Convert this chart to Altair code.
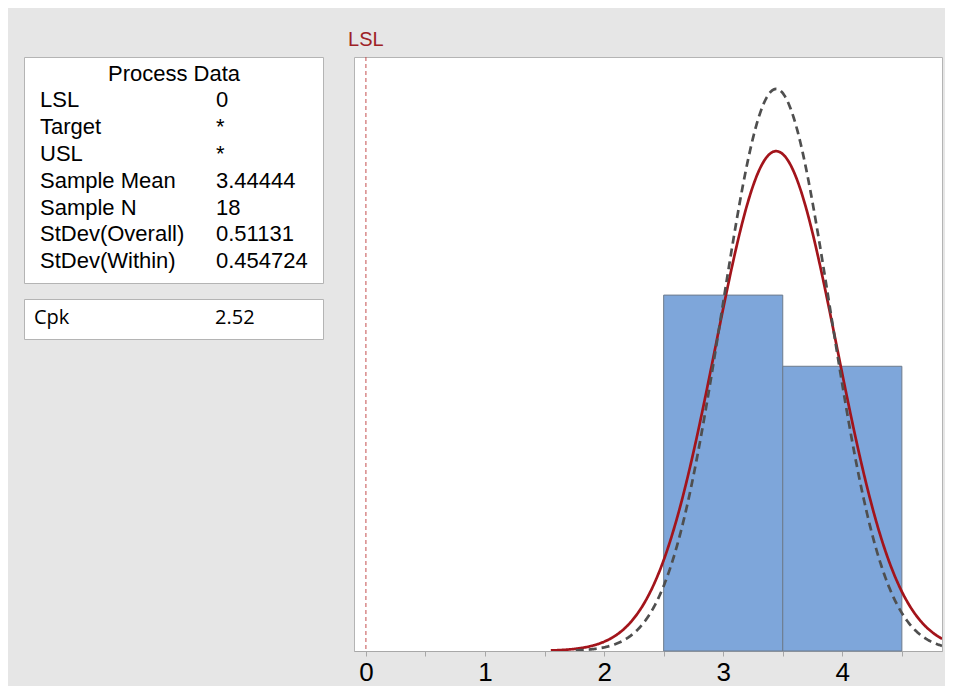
import altair as alt
import pandas as pd

# ---- data ----
pd_labels = ["LSL", "Target", "USL", "Sample Mean", "Sample N", "StDev(Overall)", "StDev(Within)"]
pd_values = ["0", "*", "*", "3.44444", "18", "0.51131", "0.454724"]
cpk_labels = ["Cpk"]
cpk_values = ["2.52"]

bin_start = [2.5, 3.5]
bin_end = [3.5, 4.5]
bin_count = [10, 8]

lsl_value = [0]
sample_mean = 3.44444
sample_n = 18
sd_overall = 0.51131
sd_within = 0.454724
bin_width = 1.0

x_tick_values = [0, 0.5, 1, 1.5, 2, 2.5, 3, 3.5, 4, 4.5]
x_domain = [-0.1, 4.837]
y_domain = [0, 16.69]

FONT = "Liberation Sans"

# ---- left panels ----
rows = pd.DataFrame({
    "row": list(range(1, len(pd_labels) + 1)),
    "label": pd_labels,
    "value": pd_values,
})
title_df = pd.DataFrame({"row": [0], "label": ["Process Data"]})

y_rows = alt.Y("row:Q", axis=None,
               scale=alt.Scale(domain=[-0.877, 7.556], nice=False, zero=False, reverse=True))

pd_title = alt.Chart(title_df).mark_text(
    font=FONT, fontSize=22, align="center", baseline="alphabetic", color="black"
).encode(x=alt.value(150), y=y_rows, text="label:N")

pd_lab = alt.Chart(rows).mark_text(
    font=FONT, fontSize=22, align="left", baseline="alphabetic", color="black"
).encode(x=alt.value(16), y=y_rows, text="label:N")

pd_val = alt.Chart(rows).mark_text(
    font=FONT, fontSize=22, align="left", baseline="alphabetic", color="black"
).encode(x=alt.value(192), y=y_rows, text="value:N")

pd_panel = alt.layer(pd_title, pd_lab, pd_val).properties(width=299, height=226)

cpk_df = pd.DataFrame({"label": cpk_labels, "value": cpk_values})
cpk_lab = alt.Chart(cpk_df).mark_text(
    font="Open Sans", fontSize=20, align="left", baseline="alphabetic", color="black"
).encode(x=alt.value(10), y=alt.value(25), text="label:N")
cpk_val = alt.Chart(cpk_df).mark_text(
    font="Open Sans", fontSize=20, align="left", baseline="alphabetic", color="black"
).encode(x=alt.value(191), y=alt.value(25), text="value:N")
cpk_panel = alt.layer(cpk_lab, cpk_val).properties(width=299, height=40)

left = alt.vconcat(pd_panel, cpk_panel, spacing=14)

# ---- main capability plot ----
xs = alt.Scale(domain=x_domain, nice=False, zero=False)
ys = alt.Scale(domain=y_domain, nice=False, zero=False)
x_axis = alt.Axis(values=x_tick_values, grid=False, title=None,
                  labelFontSize=26, labelFont=FONT, labelColor="black",
                  labelPadding=3, tickSize=5,
                  labelExpr="datum.value % 1 == 0 ? format(datum.value, 'd') : ''")

hist_df = pd.DataFrame({"start": bin_start, "end": bin_end, "count": bin_count})
bars = alt.Chart(hist_df).mark_rect(
    fill="#7ea6da", stroke="#6d7b8c", strokeWidth=1
).encode(
    x=alt.X("start:Q", scale=xs, axis=x_axis),
    x2="end:Q",
    y=alt.Y("count:Q", scale=ys, axis=None),
    y2=alt.datum(0),
)


def curve(sd, color, dash=None):
    start = sample_mean - 3.7 * sd
    expr = (f"{sample_n}*{bin_width}*exp(-0.5*pow((datum.x-{sample_mean})/{sd},2))"
            f"/({sd}*sqrt(2*PI))")
    kw = dict(color=color, strokeWidth=2.7, clip=True)
    if dash:
        kw["strokeDash"] = dash
    return alt.Chart(alt.sequence(start, x_domain[1] + 0.001, 0.005, as_="x")).transform_calculate(
        dens=expr
    ).mark_line(**kw).encode(
        x=alt.X("x:Q", scale=xs, axis=x_axis),
        y=alt.Y("dens:Q", scale=ys, axis=None),
    )


overall = curve(sd_overall, "#a3141b")
within = curve(sd_within, "#4f4f4f", dash=[8, 5])

lsl_df = pd.DataFrame({"lsl": lsl_value, "name": ["LSL"]})
lsl_rule = alt.Chart(lsl_df).mark_rule(
    color="#c44e4e", strokeWidth=1, strokeDash=[4, 3]
).encode(x=alt.X("lsl:Q", scale=xs, axis=x_axis))
lsl_text = alt.Chart(lsl_df).mark_text(
    font=FONT, fontSize=20, color="#9e2226", align="center", baseline="alphabetic"
).encode(x=alt.X("lsl:Q", scale=xs, axis=x_axis), y=alt.value(-11), text="name:N")

main = alt.layer(bars, overall, within, lsl_rule, lsl_text).properties(width=588, height=594)

chart = alt.hconcat(left, main, spacing=23).properties(
    padding={"left": 15, "top": 21, "right": 2, "bottom": 0},
    background="#e6e6e6",
).configure_view(
    fill="white", stroke="#b4b4b4", strokeWidth=1
).configure_axis(
    domainColor="#a8a8a8", tickColor="#a8a8a8",
)

chart.save("out.html", embed_options={"renderer": "svg", "actions": False})
